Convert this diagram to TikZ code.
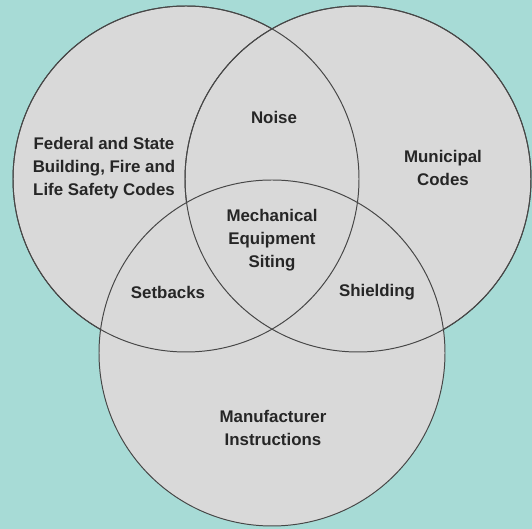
\documentclass[tikz,border=0pt]{standalone}
\usepackage{fontspec}
\setmainfont{Liberation Sans}
\usepackage{tikz}

\definecolor{bgteal}{HTML}{A7DBD6}
\definecolor{setgrey}{HTML}{D9D9D9}
\definecolor{rimgrey}{HTML}{474747}
\definecolor{labelgrey}{HTML}{262626}

\begin{document}
\begin{tikzpicture}[
        set/.style={circle, draw=rimgrey, fill=setgrey, line width=0.7pt, minimum size=8.65cm, inner sep=0pt},
        lbl/.style={align=center, text=labelgrey, font=\fontsize{12}{16.5}\selectfont\bfseries}
    ]
        % background
        \fill[bgteal] (0, 0) rectangle (13.3, 13.225);
        \useasboundingbox (0, 0) rectangle (13.3, 13.225);
        % the three sets, filled first
        \node[set] (codes)     at (4.65, 8.75) {};
        \node[set] (municipal) at (8.95, 8.75) {};
        \node[set] (maker)     at (6.80, 4.40) {};
        % outlines again on top so that no fill hides them
        \draw[rimgrey, line width=0.7pt] (codes) circle (4.325);
        \draw[rimgrey, line width=0.7pt] (municipal) circle (4.325);
        % labels of the sets
        \node[lbl] (codestxt)  at (2.600, 9.025) {Federal and State\\Building, Fire and\\Life Safety Codes};
        \node[lbl] (munitxt)   at (11.075, 9.025) {Municipal\\Codes};
        \node[lbl] (makertxt)  at (6.825, 2.525) {Manufacturer\\Instructions};
        % labels of the overlaps
        \node[lbl] (noise)     at (6.85, 10.30) {Noise};
        \node[lbl] (setbacks)  at (4.20, 5.925) {Setbacks};
        \node[lbl] (shielding) at (9.425, 5.925) {Shielding};
        \node[lbl] (siting)    at (6.80, 7.225) {Mechanical\\Equipment\\Siting};
    \end{tikzpicture}
\end{document}
